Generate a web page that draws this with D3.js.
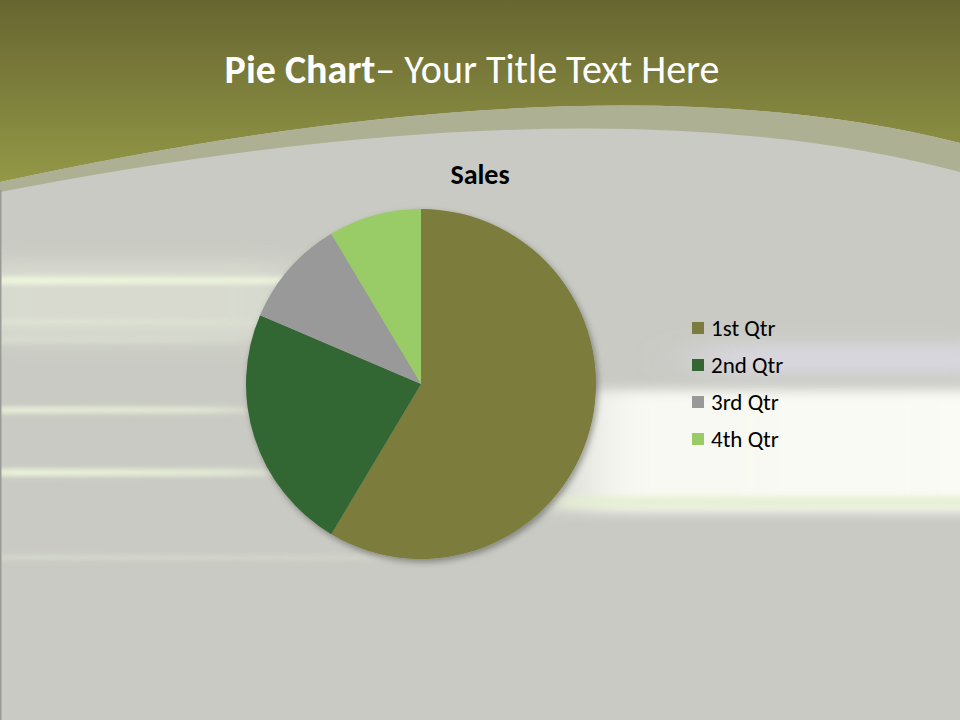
<!DOCTYPE html>
<html>
<head>
<meta charset="utf-8">
<script src="https://cdn.jsdelivr.net/npm/d3@7"></script>
<style>
  html, body { margin: 0; padding: 0; background: #c9cac3; }
  svg { display: block; }
  text { font-family: Carlito, "Open Sans", "Noto Sans", sans-serif; }
</style>
</head>
<body>
<div id="chart"></div>
<script>
// Chart data
const categories = ['1st Qtr', '2nd Qtr', '3rd Qtr', '4th Qtr'];
const sales = [8.2, 3.2, 1.4, 1.2];
const colors = ['#7b7c3e', '#336633', '#999999', '#99cc66'];

const width = 960;
const height = 720;

const svg = d3.select('#chart')
    .append('svg')
    .attr('width', width)
    .attr('height', height);

const defs = svg.append('defs');

// top band gradient
const topGrad = defs.append('linearGradient')
    .attr('id', 'topGrad')
    .attr('x1', 0).attr('y1', 0).attr('x2', 0).attr('y2', 1);
topGrad.append('stop').attr('offset', '0%').attr('stop-color', '#676631');
topGrad.append('stop').attr('offset', '100%').attr('stop-color', '#939846');

const blur = defs.append('filter')
    .attr('id', 'blur')
    .attr('x', '-20%').attr('y', '-200%')
    .attr('width', '140%').attr('height', '500%');
blur.append('feGaussianBlur').attr('stdDeviation', '18 2.5');

const bandBlur = defs.append('filter')
    .attr('id', 'bandBlur')
    .attr('x', '-20%').attr('y', '-50%')
    .attr('width', '140%').attr('height', '200%');
bandBlur.append('feGaussianBlur').attr('stdDeviation', '20 6');

const softBlur = defs.append('filter')
    .attr('id', 'softBlur')
    .attr('x', '-20%').attr('y', '-100%')
    .attr('width', '140%').attr('height', '300%');
softBlur.append('feGaussianBlur').attr('stdDeviation', '30 10');

const shadow = defs.append('filter')
    .attr('id', 'shadow')
    .attr('x', '-10%').attr('y', '-10%')
    .attr('width', '130%').attr('height', '130%');
shadow.append('feDropShadow')
    .attr('dx', 2).attr('dy', 3)
    .attr('stdDeviation', 3)
    .attr('flood-color', '#000')
    .attr('flood-opacity', 0.35);

// fade gradients for streaks
const fadeRight = defs.append('linearGradient').attr('id', 'fadeRight');
fadeRight.append('stop').attr('offset', '0%').attr('stop-color', '#f1f9df').attr('stop-opacity', 1);
fadeRight.append('stop').attr('offset', '75%').attr('stop-color', '#f1f9df').attr('stop-opacity', 0.75);
fadeRight.append('stop').attr('offset', '100%').attr('stop-color', '#f1f9df').attr('stop-opacity', 0);

const fadeLeft = defs.append('linearGradient').attr('id', 'fadeLeft');
fadeLeft.append('stop').attr('offset', '0%').attr('stop-color', '#fafbf4').attr('stop-opacity', 0);
fadeLeft.append('stop').attr('offset', '20%').attr('stop-color', '#fafbf4').attr('stop-opacity', 0.95);
fadeLeft.append('stop').attr('offset', '100%').attr('stop-color', '#fafbf4').attr('stop-opacity', 1);

// background
svg.append('rect')
    .attr('width', width).attr('height', height)
    .attr('fill', '#c9cac3');

// light haze behind the left streaks
svg.append('rect')
    .attr('x', -40).attr('y', 262)
    .attr('width', 340).attr('height', 80)
    .attr('fill', '#e2e6d8')
    .attr('opacity', 0.6)
    .attr('filter', 'url(#softBlur)');

// streaks on the left
const streaks = [
    { y: 277, h: 7, w: 480, o: 1 },
    { y: 320, h: 4, w: 300, o: 0.4 },
    { y: 338, h: 4, w: 280, o: 0.35 },
    { y: 407, h: 6, w: 300, o: 0.9 },
    { y: 469, h: 7, w: 330, o: 0.95 },
    { y: 555, h: 5, w: 500, o: 0.35 }
];
svg.selectAll('rect.streak')
    .data(streaks)
    .join('rect')
    .attr('class', 'streak')
    .attr('x', -20)
    .attr('y', d => d.y)
    .attr('width', d => d.w)
    .attr('height', d => d.h)
    .attr('fill', 'url(#fadeRight)')
    .attr('opacity', d => d.o)
    .attr('filter', 'url(#blur)');

// pale violet light on the right
svg.append('rect')
    .attr('x', 700).attr('y', 345)
    .attr('width', 320).attr('height', 28)
    .attr('fill', '#e2dfee')
    .attr('opacity', 0.7)
    .attr('filter', 'url(#softBlur)');

// bright band on the right
svg.append('rect')
    .attr('x', 520).attr('y', 390)
    .attr('width', 500).attr('height', 122)
    .attr('fill', 'url(#fadeLeft)')
    .attr('filter', 'url(#bandBlur)');
svg.append('rect')
    .attr('x', 560).attr('y', 496)
    .attr('width', 460).attr('height', 12)
    .attr('fill', '#e4efcf')
    .attr('opacity', 0.8)
    .attr('filter', 'url(#blur)');

// top header with arc
svg.append('path')
    .attr('d', 'M0,0 H960 V143 Q600,52 0,182 Z')
    .attr('fill', 'url(#topGrad)');
svg.append('path')
    .attr('d', 'M0,182 Q600,52 960,143 V172 Q600,76 0,192 Z')
    .attr('fill', '#aeb094');

// left edge line
svg.append('rect')
    .attr('x', 0).attr('y', 190)
    .attr('width', 1.5).attr('height', height - 190)
    .attr('fill', '#9a9b95');

// title
const title = svg.append('text')
    .attr('x', 472)
    .attr('y', 83)
    .attr('text-anchor', 'middle')
    .attr('fill', '#ffffff')
    .attr('font-size', 40);
title.append('tspan').attr('font-weight', 'bold').text('Pie Chart');
title.append('tspan').text('– Your Title Text Here');

// chart title
svg.append('text')
    .attr('x', 480)
    .attr('y', 184)
    .attr('text-anchor', 'middle')
    .attr('font-weight', 'bold')
    .attr('font-size', 28)
    .attr('fill', '#000')
    .text('Sales');

// pie
const cx = 421, cy = 384, radius = 175;

const pie = d3.pie().sort(null).value(d => d);
const arc = d3.arc().innerRadius(0).outerRadius(radius);

const pieG = svg.append('g')
    .attr('transform', `translate(${cx},${cy})`)
    .attr('filter', 'url(#shadow)');

pieG.selectAll('path')
    .data(pie(sales))
    .join('path')
    .attr('d', arc)
    .attr('fill', (d, i) => colors[i]);

// legend
const legend = svg.append('g')
    .attr('transform', 'translate(692,328)');

const items = legend.selectAll('g')
    .data(categories)
    .join('g')
    .attr('transform', (d, i) => `translate(0,${i * 37})`);

items.append('rect')
    .attr('x', 0).attr('y', -6)
    .attr('width', 12).attr('height', 12)
    .attr('fill', (d, i) => colors[i]);

items.append('text')
    .attr('x', 19)
    .attr('y', 8)
    .attr('font-size', 23)
    .attr('fill', '#000')
    .text(d => d);
</script>
</body>
</html>
